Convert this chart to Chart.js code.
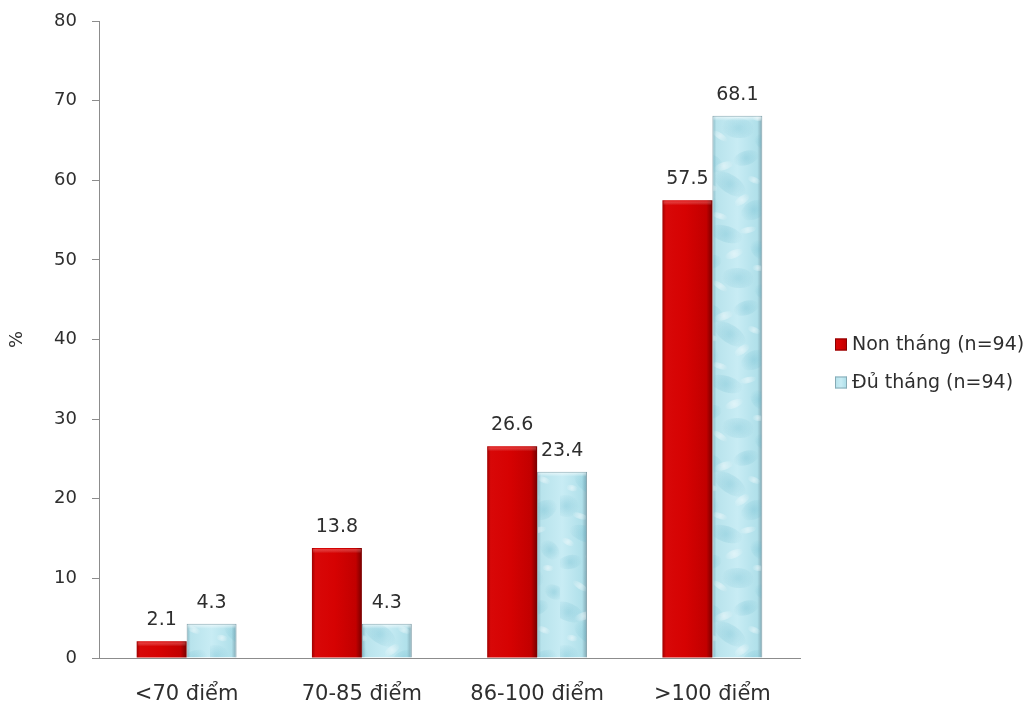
<!DOCTYPE html>
<html>
<head>
<meta charset="utf-8">
<script src="https://cdn.jsdelivr.net/npm/chart.js@4.4.1/dist/chart.umd.min.js"></script>
<style>
  html, body { margin: 0; padding: 0; background: #ffffff; }
  #wrap { width: 1034px; height: 704px; }
</style>
</head>
<body>
<div id="wrap"><canvas id="chart" width="1034" height="704"></canvas></div>
<script>
// Score groups and the share (%) of children in each group
const categories = ['<70 điểm', '70-85 điểm', '86-100 điểm', '>100 điểm'];
const nonThang = [2.1, 13.8, 26.6, 57.5];
const duThang = [4.3, 4.3, 23.4, 68.1];
const seriesNames = ['Non tháng (n=94)', 'Đủ tháng (n=94)'];
const yTicks = [0, 10, 20, 30, 40, 50, 60, 70, 80];

const FONT = "'DejaVu Sans', Verdana, sans-serif";
const TEXT = '#2e2e2e';
const AXIS = '#8c8c8c';

// Horizontal shading for the two bar styles (glossy red, icy blue)
const redStops = [[0, '#a00000'], [0.07, '#d80808'], [0.45, '#d60202'], [0.88, '#c20000'], [1, '#780000']];
const blueStops = [[0, '#86b8c4'], [0.08, '#b8e3ec'], [0.5, '#c8ecf4'], [0.9, '#b0e0ea'], [1, '#7fa6b2']];
const flatColors = ['#cc0000', '#bfe4ee'];

function barFill(ctx) {
  const chart = ctx.chart;
  const el = chart.getDatasetMeta(ctx.datasetIndex).data[ctx.dataIndex];
  if (!el || !isFinite(el.x) || !isFinite(el.width)) return flatColors[ctx.datasetIndex];
  const l = el.x - el.width / 2, r = el.x + el.width / 2;
  const g = chart.ctx.createLinearGradient(l, 0, r, 0);
  (ctx.datasetIndex === 0 ? redStops : blueStops).forEach(([o, c]) => g.addColorStop(o, c));
  return g;
}

// Tile of mottled "water" patches laid over the blue bars
const waterTile = (() => {
  const c = document.createElement('canvas');
  c.width = 70; c.height = 150;
  const t = c.getContext('2d');
  const dark = [
    [8, 12, 16, 9, 0.4], [46, 8, 13, 7, -0.3], [30, 34, 18, 9, 0.6], [6, 56, 13, 11, 0.2],
    [54, 60, 14, 9, -0.5], [26, 84, 17, 8, 0.3], [60, 100, 11, 8, 0.8], [10, 112, 12, 7, -0.2],
    [38, 128, 16, 10, 0.1], [64, 142, 10, 7, 0.5]
  ];
  const light = [
    [24, 16, 10, 4, -0.3], [54, 30, 7, 3, 0.4], [12, 38, 6, 3, 0.2], [42, 50, 9, 4, -0.6],
    [20, 66, 8, 3, 0.3], [48, 80, 9, 3, -0.2], [8, 92, 7, 3, 0.5], [34, 104, 10, 4, -0.4],
    [58, 118, 6, 3, 0.1], [20, 136, 9, 3, 0.6]
  ];
  dark.forEach(([x, y, rx, ry, a]) => {
    const g = t.createRadialGradient(x, y, 1, x, y, Math.max(rx, ry));
    g.addColorStop(0, 'rgba(105,185,205,0.32)');
    g.addColorStop(1, 'rgba(105,185,205,0)');
    t.fillStyle = g;
    t.beginPath();
    t.ellipse(x, y, rx, ry, a, 0, Math.PI * 2);
    t.fill();
  });
  light.forEach(([x, y, rx, ry, a]) => {
    const g = t.createRadialGradient(x, y, 0.5, x, y, Math.max(rx, ry));
    g.addColorStop(0, 'rgba(255,255,255,0.45)');
    g.addColorStop(1, 'rgba(255,255,255,0)');
    t.fillStyle = g;
    t.beginPath();
    t.ellipse(x, y, rx, ry, a, 0, Math.PI * 2);
    t.fill();
  });
  return c;
})();

const barDecor = {
  id: 'barDecor',
  afterDatasetsDraw(chart) {
    const ctx = chart.ctx;
    const pattern = ctx.createPattern(waterTile, 'repeat');
    chart.data.datasets.forEach((ds, di) => {
      chart.getDatasetMeta(di).data.forEach((bar) => {
        const l = bar.x - bar.width / 2, w = bar.width;
        const top = Math.min(bar.y, bar.base), h = Math.abs(bar.base - bar.y);
        ctx.save();
        ctx.beginPath();
        ctx.rect(l + 1, top + 1, w - 2, h - 1);
        ctx.clip();
        if (di === 1) {
          ctx.fillStyle = pattern;
          ctx.fillRect(l, top, w, h);
        }
        // bevelled top edge
        const bev = Math.min(5, h);
        const g = ctx.createLinearGradient(0, top, 0, top + bev);
        g.addColorStop(0, di === 0 ? 'rgba(255,110,110,0.5)' : 'rgba(255,255,255,0.7)');
        g.addColorStop(1, 'rgba(255,255,255,0)');
        ctx.fillStyle = g;
        ctx.fillRect(l, top, w, bev);
        ctx.restore();
      });
    });
  },
  afterDraw(chart) {
    const ctx = chart.ctx;
    // value labels above the bars
    ctx.save();
    ctx.font = '19px ' + FONT;
    ctx.fillStyle = TEXT;
    ctx.textAlign = 'center';
    ctx.textBaseline = 'middle';
    chart.data.datasets.forEach((ds, di) => {
      chart.getDatasetMeta(di).data.forEach((bar, i) => {
        ctx.fillText(ds.data[i].toFixed(1), bar.x, bar.y - 21);
      });
    });
    // legend at the right of the plot
    const area = chart.chartArea;
    const lx = area.right + 35;
    const ly = area.top + area.height / 2 + 5;
    ctx.font = '19px ' + FONT;
    ctx.textAlign = 'left';
    chart.data.datasets.forEach((ds, di) => {
      const y = ly + di * 38;
      const g = ctx.createLinearGradient(lx, 0, lx + 12, 0);
      (di === 0 ? redStops : blueStops).forEach(([o, c]) => g.addColorStop(o, c));
      ctx.fillStyle = g;
      ctx.fillRect(lx, y - 6, 12, 12);
      ctx.strokeStyle = di === 0 ? '#8a0000' : '#86aab5';
      ctx.lineWidth = 1;
      ctx.strokeRect(lx + 0.5, y - 5.5, 11, 11);
      ctx.fillStyle = TEXT;
      ctx.fillText(ds.label, lx + 17, y + 1);
    });
    ctx.restore();
  }
};

const chart = new Chart(document.getElementById('chart'), {
  type: 'bar',
  data: {
    labels: categories,
    datasets: [
      { label: seriesNames[0], data: nonThang, backgroundColor: barFill, borderColor: '#9a0000', borderWidth: 0 },
      { label: seriesNames[1], data: duThang, backgroundColor: barFill, borderColor: '#84a2ac', borderWidth: 1 }
    ]
  },
  options: {
    responsive: false,
    animation: false,
    events: [],
    layout: { padding: { left: 0, top: 21, right: 234, bottom: 0 } },
    datasets: { bar: { categoryPercentage: 0.57, barPercentage: 1.0 } },
    plugins: { legend: { display: false }, tooltip: { enabled: false } },
    scales: {
      x: {
        grid: { display: true, drawOnChartArea: false, drawTicks: false },
        border: { display: true, color: AXIS, width: 1 },
        ticks: { color: TEXT, font: { family: FONT, size: 21 }, padding: 24, maxRotation: 0 },
        afterFit(scale) { scale.height = 46; scale.paddingLeft = 0; scale.paddingRight = 0; }
      },
      y: {
        min: yTicks[0],
        max: yTicks[yTicks.length - 1],
        afterBuildTicks(scale) { scale.ticks = yTicks.map(v => ({ value: v })); },
        grid: { display: true, drawOnChartArea: false, drawTicks: true, tickLength: 7, color: AXIS },
        border: { display: true, color: AXIS, width: 1 },
        ticks: { color: TEXT, font: { family: FONT, size: 18 }, padding: 15 },
        title: { display: true, text: '%', color: TEXT, font: { family: FONT, size: 18 }, padding: 7 },
        afterFit(scale) { scale.width = 99; scale.paddingTop = 0; scale.paddingBottom = 0; }
      }
    }
  },
  plugins: [barDecor]
});
// second pass so the bar shading can follow each bar's laid-out position
chart.update();
</script>
</body>
</html>
